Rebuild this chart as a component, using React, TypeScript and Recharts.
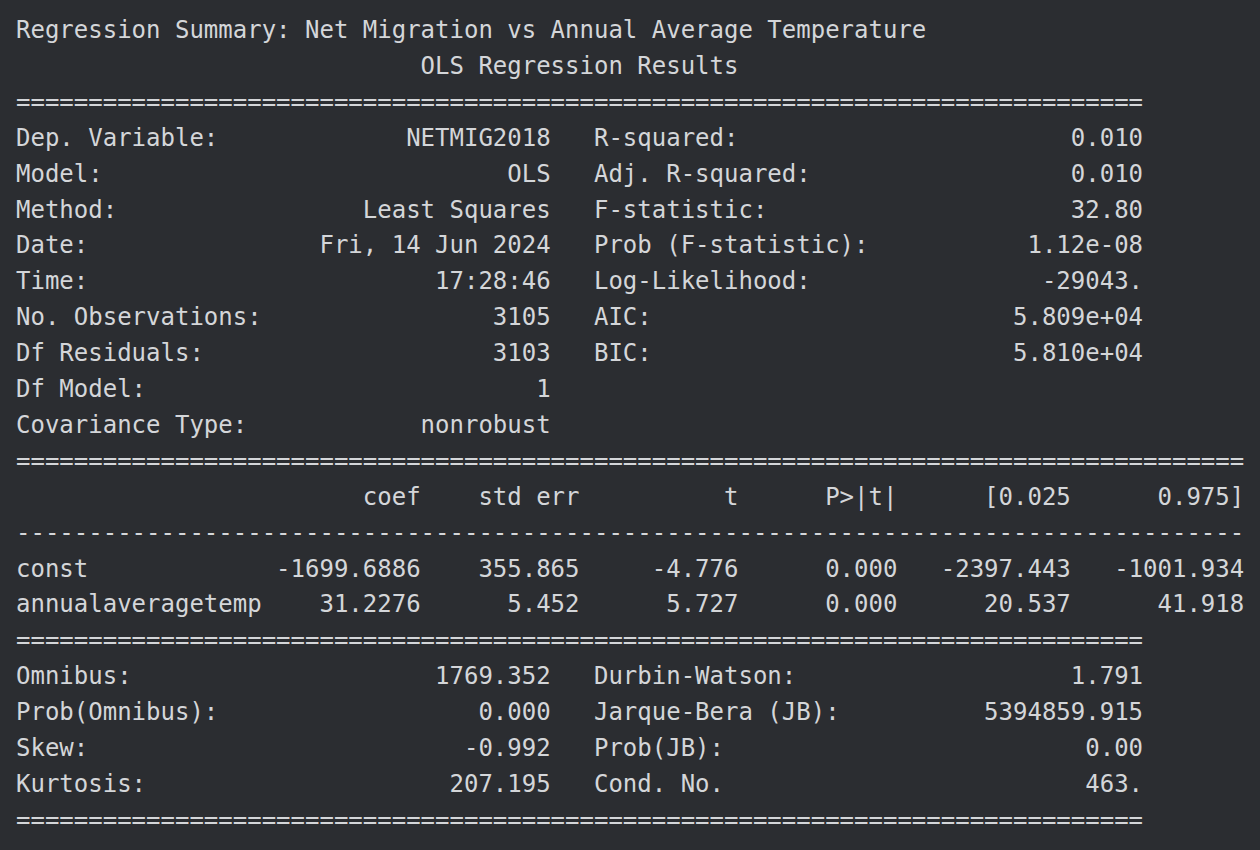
import { Surface } from 'recharts'

const title = 'Regression Summary: Net Migration vs Annual Average Temperature'
const subtitle = 'OLS Regression Results'

const topLeft: [string, string][] = [
  ['Dep. Variable:', 'NETMIG2018'],
  ['Model:', 'OLS'],
  ['Method:', 'Least Squares'],
  ['Date:', 'Fri, 14 Jun 2024'],
  ['Time:', '17:28:46'],
  ['No. Observations:', '3105'],
  ['Df Residuals:', '3103'],
  ['Df Model:', '1'],
  ['Covariance Type:', 'nonrobust'],
]
const topRight: [string, string][] = [
  ['R-squared:', '0.010'],
  ['Adj. R-squared:', '0.010'],
  ['F-statistic:', '32.80'],
  ['Prob (F-statistic):', '1.12e-08'],
  ['Log-Likelihood:', '-29043.'],
  ['AIC:', '5.809e+04'],
  ['BIC:', '5.810e+04'],
]

const coefHeader = ['', 'coef', 'std err', 't', 'P>|t|', '[0.025', '0.975]']
const coefRows: string[][] = [
  ['const', '-1699.6886', '355.865', '-4.776', '0.000', '-2397.443', '-1001.934'],
  ['annualaveragetemp', '31.2276', '5.452', '5.727', '0.000', '20.537', '41.918'],
]
const coefWidths = [17, 11, 11, 11, 11, 12, 12]

const bottomLeft: [string, string][] = [
  ['Omnibus:', '1769.352'],
  ['Prob(Omnibus):', '0.000'],
  ['Skew:', '-0.992'],
  ['Kurtosis:', '207.195'],
]
const bottomRight: [string, string][] = [
  ['Durbin-Watson:', '1.791'],
  ['Jarque-Bera (JB):', '5394859.915'],
  ['Prob(JB):', '0.00'],
  ['Cond. No.', '463.'],
]

const pair = (l?: [string, string], r?: [string, string]) => {
  let s = l ? l[0] + l[1].padStart(37 - l[0].length) : ''.padEnd(37)
  if (r) s += '   ' + r[0] + r[1].padStart(38 - r[0].length)
  return s.replace(/\s+$/, '')
}

const coefLine = (cells: string[]) =>
  cells.map((c, i) => (i === 0 ? c.padEnd(coefWidths[0]) : c.padStart(coefWidths[i]))).join('')

const lines: string[] = [
  title,
  ' '.repeat(28) + subtitle,
  '='.repeat(78),
  ...topLeft.map((l, i) => pair(l, topRight[i])),
  '='.repeat(85),
  coefLine(coefHeader),
  '-'.repeat(85),
  ...coefRows.map(coefLine),
  '='.repeat(78),
  ...bottomLeft.map((l, i) => pair(l, bottomRight[i])),
  '='.repeat(78),
]

export default function App() {
  return (
    <div style={{ position: 'absolute', left: 0, top: 0, width: 1260, height: 850, background: '#2b2d31' }}>
      <Surface width={1260} height={850}>
        {lines.map((line, i) => (
          <text
            key={i}
            x={16}
            y={38 + i * 35.9}
            fill="#d4d6d9"
            fontSize={24}
            fontFamily="'DejaVu Sans Mono', monospace"
            style={{ whiteSpace: 'pre' }}
          >
            {line}
          </text>
        ))}
      </Surface>
    </div>
  )
}
